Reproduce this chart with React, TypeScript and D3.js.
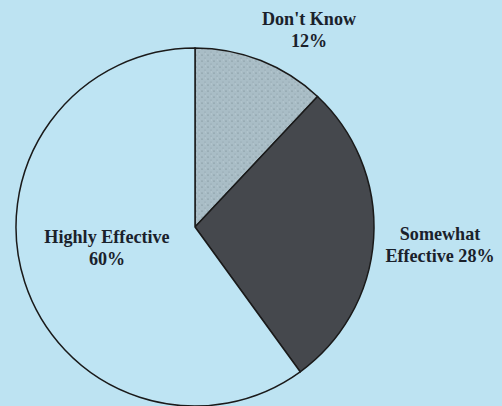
import React from "react";
import * as d3 from "d3";

const categories = ["Don't Know", "Somewhat Effective", "Highly Effective"];
const values = [12, 28, 60];
const labelLines = [["Don't Know", "12%"], ["Somewhat", "Effective 28%"], ["Highly Effective", "60%"]];
const fills = ["#a9bdc6", "#45484d", "#bee4f3"];

export default function App() {
  const W = 502, H = 406;
  const cx = 195, cy = 227, r = 179;
  const pie = d3.pie<number>().sort(null).value((d) => d);
  const arcs = pie(values);
  const arc = d3.arc<d3.PieArcDatum<number>>().innerRadius(0).outerRadius(r);
  const labelPos: [number, number][] = [[309, 25], [440, 240], [107, 243]];
  const sx = 0.93;
  return (
    <svg width={W} height={H} style={{ position: "absolute", left: 0, top: 0 }}>
      <defs>
        <pattern id="stip" width="6" height="6" patternUnits="userSpaceOnUse">
          <rect width="6" height="6" fill="#a9bdc6" />
          <circle cx="1" cy="2" r="0.6" fill="#6f8088" />
          <circle cx="4" cy="5" r="0.5" fill="#8597a0" />
          <circle cx="4.5" cy="1" r="0.4" fill="#d0dde3" />
        </pattern>
      </defs>
      <rect width={W} height={H} fill="#bde3f2" />
      <g transform={`translate(${cx},${cy})`}>
        {arcs.map((a, i) => (
          <path key={categories[i]} d={arc(a) || ""} fill={i === 0 ? "url(#stip)" : fills[i]} stroke="#1a1a1a" strokeWidth={1.5} />
        ))}
      </g>
      {labelLines.map((lines, i) => (
        <g key={i} transform={`translate(${labelPos[i][0]},${labelPos[i][1]}) scale(${sx},1)`}>
          <text x={0} y={0} textAnchor="middle"
            fontFamily="'Liberation Serif', 'Times New Roman', serif" fontWeight="bold" fontSize={19.5} fill="#1a212b">
            {lines.map((l, j) => (
              <tspan key={j} x={0} dy={j === 0 ? 0 : 22}>{l}</tspan>
            ))}
          </text>
        </g>
      ))}
    </svg>
  );
}
